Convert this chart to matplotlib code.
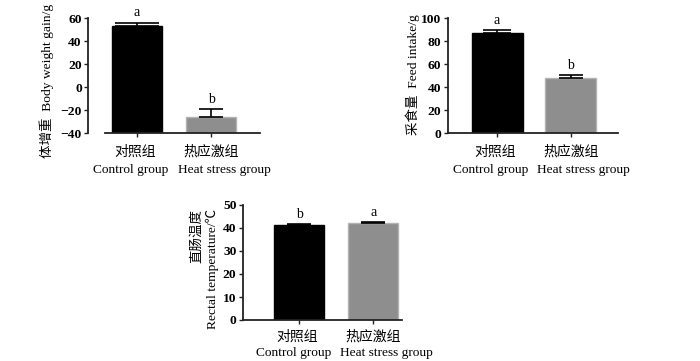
import matplotlib
matplotlib.use('Agg')
import matplotlib.pyplot as plt
import numpy as np

plt.rcParams['font.family'] = ['Liberation Serif', 'Noto Sans CJK SC']
plt.rcParams['font.size'] = 9.7
plt.rcParams['axes.unicode_minus'] = True

groups_cn = ['对照组', '热应激组']
groups_en = ['Control group', 'Heat stress group']

# body weight gain (g)
bw_mean = [53, -26]
bw_err = [3, 7]
bw_sig = ['a', 'b']

# feed intake (g)
fi_mean = [87.5, 48.5]
fi_err = [2.2, 1.9]
fi_sig = ['a', 'b']

# rectal temperature (C)
rt_mean = [41.5, 42.2]
rt_err = [0.15, 0.25]
rt_sig = ['b', 'a']

W, H = 700, 361
bar_colors = ['black', '#8e8e8e']
edge_colors = ['black', '#b3b3b3']
spine_col = '#222222'
pt = 72 / 100  # px -> points


def px_axes(x0, x1, ytop, ybot):
    return [x0 / W, 1 - ybot / H, (x1 - x0) / W, (ybot - ytop) / H]


def panel(fig, rect, means, errs, sigs, ylim, yticks, xlim, width, caps,
          offset=0, lab_dy=(19, 37)):
    ax = fig.add_axes(rect)
    x = np.arange(len(means))
    base = ylim[0] if ylim[0] < 0 else 0
    heights = [m - base for m in means]
    ax.bar(x, heights, width, bottom=base, color=bar_colors,
           edgecolor=edge_colors, linewidth=1.0)
    for i in range(len(means)):
        ax.errorbar(x[i], means[i], yerr=[[0], [errs[i]]], fmt='none',
                    ecolor='black', elinewidth=1.2, capsize=caps[i], capthick=1.2)
        ax.annotate(sigs[i], (x[i], means[i] + errs[i]), xytext=(0, 10 * pt),
                    textcoords='offset points', ha='center', va='center',
                    fontsize=10)
    ax.set_ylim(*ylim)
    ax.set_xlim(*xlim)
    ax.set_yticks(yticks)
    ax.set_xticks(x, ['', ''])
    # two-line group labels, english line a bit shifted like the original
    cn_dx = [-2, 0]
    en_dx = [-6, 13]
    for i in range(len(x)):
        ax.annotate(groups_cn[i], (x[i], 0), xycoords=ax.get_xaxis_transform(),
                    xytext=(cn_dx[i] * pt, -lab_dy[0] * pt), textcoords='offset points',
                    ha='center', va='center', fontsize=10)
        ax.annotate(groups_en[i], (x[i], 0), xycoords=ax.get_xaxis_transform(),
                    xytext=(en_dx[i] * pt, -lab_dy[1] * pt), textcoords='offset points',
                    ha='center', va='center', fontsize=9.6)
    for s in ['top', 'right']:
        ax.spines[s].set_visible(False)
    for s in ['left', 'bottom']:
        ax.spines[s].set_color(spine_col)
        ax.spines[s].set_linewidth(1.3)
    if offset:
        ax.spines['left'].set_position(('outward', offset))
    ax.tick_params(axis='y', length=3, width=1, pad=1.5, color=spine_col)
    ax.tick_params(axis='x', length=3, width=1, pad=6, color=spine_col)
    for lab in ax.get_yticklabels():
        lab.set_fontweight('bold')
    return ax


fig = plt.figure(figsize=(7, 3.61), dpi=100)

panel(fig, px_axes(105, 260, 18.3, 133.3), bw_mean, bw_err, bw_sig,
      (-40, 60), [-40, -20, 0, 20, 40, 60], (-0.432, 1.662), 0.676,
      [15.5, 8.6], offset=12.2)
fig.text(47 / W, 1 - 81 / H, '体增重  Body weight gain/g', rotation=90,
         ha='center', va='center')

panel(fig, px_axes(447.7, 618, 18.3, 133.3), fi_mean, fi_err, fi_sig,
      (0, 100), [0, 20, 40, 60, 80, 100], (-0.669, 1.638), 0.69,
      [10.4, 8.4])
fig.text(413 / W, 1 - 75 / H, '采食量  Feed intake/g', rotation=90,
         ha='center', va='center')

panel(fig, px_axes(242.7, 401.7, 205, 320), rt_mean, rt_err, rt_sig,
      (0, 50), [0, 10, 20, 30, 40, 50], (-0.765, 1.384), 0.676,
      [8.4, 8.4], lab_dy=(17, 33))
fig.text(205 / W, 1 - 269 / H, '直肠温度\nRectal temperature/℃', rotation=90,
         ha='center', va='center', multialignment='right')

fig.savefig('out.png', dpi=100, facecolor='white')
